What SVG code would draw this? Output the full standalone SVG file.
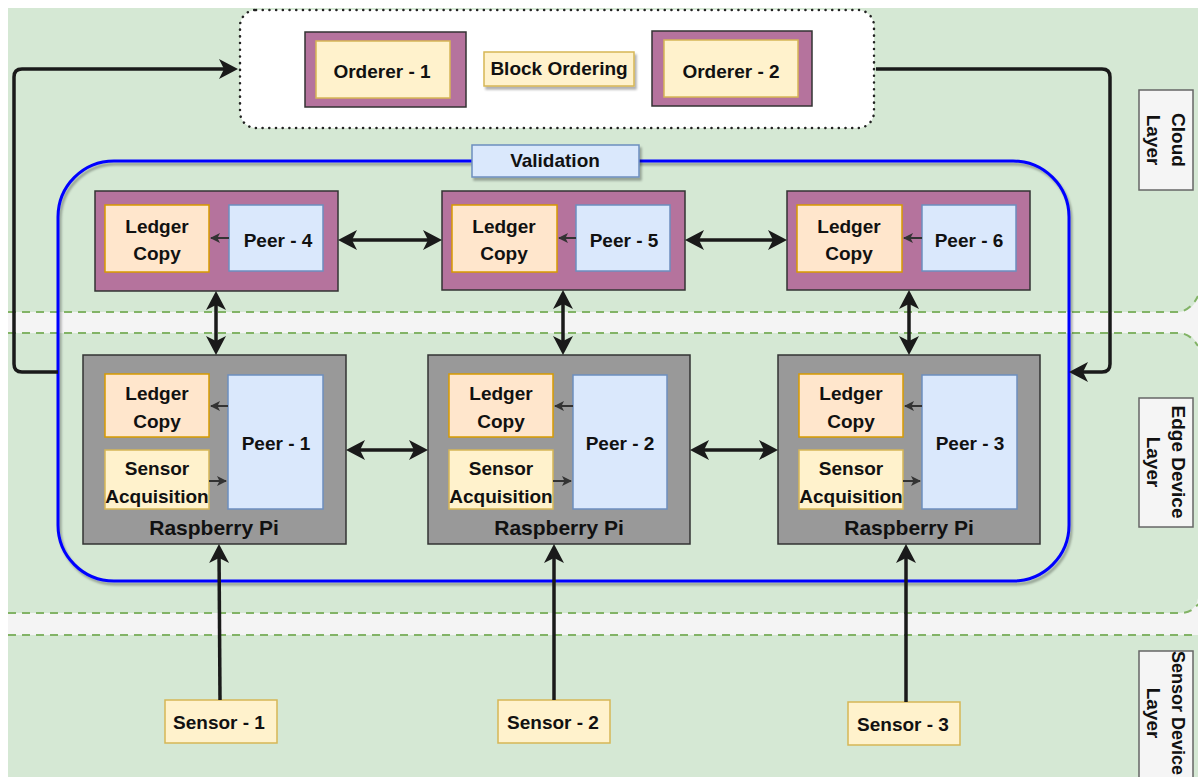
<svg xmlns="http://www.w3.org/2000/svg" width="1198" height="777" viewBox="0 0 1198 777">
  <style>
    text { font-family: "Liberation Sans", Arial, sans-serif; font-weight: bold; font-size: 19px; fill: #111; text-anchor: middle; dominant-baseline: central; }
    .band { fill: #d5e8d4; }
    .gap { fill: #f4f4f4; }
    .sep { fill: none; stroke: #82b366; stroke-width: 2; stroke-dasharray: 8 6; }
    .purple { fill: #b5739d; stroke: #333; stroke-width: 1.5; }
    .pi { fill: #999999; stroke: #333; stroke-width: 1.5; }
    .yellow { fill: #fff2cc; stroke: #d6b656; stroke-width: 1.5; }
    .ledger { fill: #ffe6cc; stroke: #d79b00; stroke-width: 1.5; }
    .peer { fill: #dae8fc; stroke: #6c8ebf; stroke-width: 1.5; }
    .layer { fill: #f5f5f5; stroke: #666; stroke-width: 1.5; }
    .big { fill: none; stroke: #1a1a1a; stroke-width: 3.5; }
    .small { fill: none; stroke: #333; stroke-width: 2; }
  </style>
  <defs>
    <marker id="ah" viewBox="-22 -12 26 24" markerWidth="26" markerHeight="24" refX="-4" refY="0" markerUnits="userSpaceOnUse" orient="auto-start-reverse">
      <path d="M0,0 L-19,-10 L-14,0 L-19,10 Z" fill="#1a1a1a"/>
    </marker>
    <marker id="sa" viewBox="-12 -7 14 14" markerWidth="14" markerHeight="14" refX="0" refY="0" markerUnits="userSpaceOnUse" orient="auto">
      <path d="M1,0 L-9,-5 L-6.5,0 L-9,5 Z" fill="#333"/>
    </marker>
    <filter id="shadow" x="-10%" y="-10%" width="130%" height="140%">
      <feDropShadow dx="2" dy="3" stdDeviation="1.2" flood-color="#000" flood-opacity="0.3"/>
    </filter>
  </defs>

  <!-- page background -->
  <rect x="0" y="0" width="1198" height="777" fill="#ffffff"/>

  <!-- layer bands -->
  <g id="bands">
    <rect class="gap" x="8" y="290" width="1190" height="360"/>
    <path class="band" d="M8,8 H1198 V292 Q1196,312 1176,312 H8 Z"/>
    <path class="band" d="M8,333 H1178 Q1196,333 1198,350 V598 Q1196,613 1178,613 H8 Z"/>
    <rect class="band" x="8" y="635" width="1190" height="142"/>
    <path class="sep" d="M8,312 H1176 Q1190,312 1198,296"/>
    <path class="sep" d="M8,333 H1178 Q1190,333 1198,346"/>
    <path class="sep" d="M8,613 H1180 Q1192,613 1198,604"/>
    <path class="sep" d="M8,635 H1198"/>
  </g>

  <!-- layer labels -->
  <g id="label-cloud">
    <rect class="layer" x="1139" y="90" width="54" height="100"/>
    <g transform="translate(1166,140) rotate(90)">
      <text x="0" y="-12">Cloud</text>
      <text x="0" y="13">Layer</text>
    </g>
  </g>
  <g id="label-edge">
    <rect class="layer" x="1139" y="398" width="54" height="129"/>
    <g transform="translate(1166,462) rotate(90)">
      <text x="0" y="-12">Edge Device</text>
      <text x="0" y="13">Layer</text>
    </g>
  </g>
  <g id="label-sensor">
    <rect class="layer" x="1139" y="651" width="54" height="132"/>
    <g transform="translate(1166,713) rotate(90)">
      <text x="0" y="-12" style="font-size:18px">Sensor Device</text>
      <text x="0" y="13">Layer</text>
    </g>
  </g>

  <!-- ordering service -->
  <g id="ordering-service">
    <rect x="240" y="10" width="634" height="118" rx="16" fill="#ffffff" stroke="#222" stroke-width="2.5" stroke-dasharray="0.1 6.6" stroke-linecap="round"/>
  </g>
  <g id="orderer-1">
    <rect class="purple" x="305" y="32" width="161" height="75"/>
    <rect class="yellow" x="316" y="41" width="134" height="57"/>
    <text x="382" y="71">Orderer - 1</text>
  </g>
  <g id="block-ordering">
    <rect class="yellow" x="484" y="52" width="150" height="34" filter="url(#shadow)"/>
    <text x="559" y="68">Block Ordering</text>
  </g>
  <g id="orderer-2">
    <rect class="purple" x="652" y="31" width="160" height="75"/>
    <rect class="yellow" x="664" y="40" width="134" height="57"/>
    <text x="731" y="71">Orderer - 2</text>
  </g>

  <!-- validation boundary -->
  <g id="validation">
    <rect x="58" y="161" width="1011" height="420" rx="56" fill="none" stroke="#0000ff" stroke-width="3" filter="url(#shadow)"/>
    <rect class="peer" x="472" y="145" width="167" height="32" filter="url(#shadow)"/>
    <text x="555" y="160">Validation</text>
  </g>

  <!-- cloud peers -->
  <g id="peer-4">
    <rect class="purple" x="95" y="191" width="243" height="100"/>
    <rect class="ledger" x="105" y="205" width="104" height="67"/>
    <text x="157" y="226">Ledger</text>
    <text x="157" y="253">Copy</text>
    <rect class="peer" x="229" y="205" width="94" height="66"/>
    <text x="278" y="240">Peer - 4</text>
  </g>
  <g id="peer-5">
    <rect class="purple" x="442" y="191" width="243" height="99"/>
    <rect class="ledger" x="452" y="205" width="105" height="67"/>
    <text x="504" y="226">Ledger</text>
    <text x="504" y="253">Copy</text>
    <rect class="peer" x="576" y="205" width="94" height="66"/>
    <text x="624" y="240">Peer - 5</text>
  </g>
  <g id="peer-6">
    <rect class="purple" x="787" y="191" width="243" height="99"/>
    <rect class="ledger" x="797" y="205" width="105" height="67"/>
    <text x="849" y="226">Ledger</text>
    <text x="849" y="253">Copy</text>
    <rect class="peer" x="922" y="205" width="94" height="66"/>
    <text x="969" y="240">Peer - 6</text>
  </g>

  <!-- edge devices -->
  <g id="raspberry-pi-1">
    <rect class="pi" x="83" y="355" width="263" height="189"/>
    <rect class="ledger" x="105" y="374" width="104" height="63"/>
    <text x="157" y="393">Ledger</text>
    <text x="157" y="421">Copy</text>
    <rect class="yellow" x="105" y="450" width="104" height="59"/>
    <text x="157" y="468">Sensor</text>
    <text x="157" y="496">Acquisition</text>
    <rect class="peer" x="228" y="375" width="95" height="134"/>
    <text x="276" y="443">Peer - 1</text>
    <text x="214" y="527" style="font-size:21px">Raspberry Pi</text>
  </g>
  <g id="raspberry-pi-2">
    <rect class="pi" x="428" y="355" width="262" height="189"/>
    <rect class="ledger" x="449" y="374" width="104" height="63"/>
    <text x="501" y="393">Ledger</text>
    <text x="501" y="421">Copy</text>
    <rect class="yellow" x="449" y="450" width="104" height="59"/>
    <text x="501" y="468">Sensor</text>
    <text x="501" y="496">Acquisition</text>
    <rect class="peer" x="573" y="375" width="94" height="134"/>
    <text x="620" y="443">Peer - 2</text>
    <text x="559" y="527" style="font-size:21px">Raspberry Pi</text>
  </g>
  <g id="raspberry-pi-3">
    <rect class="pi" x="778" y="355" width="262" height="189"/>
    <rect class="ledger" x="799" y="374" width="104" height="63"/>
    <text x="851" y="393">Ledger</text>
    <text x="851" y="421">Copy</text>
    <rect class="yellow" x="799" y="450" width="104" height="59"/>
    <text x="851" y="468">Sensor</text>
    <text x="851" y="496">Acquisition</text>
    <rect class="peer" x="922" y="375" width="95" height="134"/>
    <text x="970" y="443">Peer - 3</text>
    <text x="909" y="527" style="font-size:21px">Raspberry Pi</text>
  </g>

  <!-- sensors -->
  <g id="sensor-1">
    <rect class="yellow" x="165" y="700" width="112" height="43"/>
    <text x="219" y="722">Sensor - 1</text>
  </g>
  <g id="sensor-2">
    <rect class="yellow" x="498" y="700" width="112" height="43"/>
    <text x="553" y="722">Sensor - 2</text>
  </g>
  <g id="sensor-3">
    <rect class="yellow" x="848" y="702" width="112" height="43"/>
    <text x="903" y="724">Sensor - 3</text>
  </g>

  <!-- connectors -->
  <g id="connectors">
    <!-- peer to peer (cloud) -->
    <path class="big" d="M342,240 H438" marker-start="url(#ah)" marker-end="url(#ah)"/>
    <path class="big" d="M689,240 H783" marker-start="url(#ah)" marker-end="url(#ah)"/>
    <!-- cloud peers to edge devices -->
    <path class="big" d="M216,295 V351" marker-start="url(#ah)" marker-end="url(#ah)"/>
    <path class="big" d="M563,294 V351" marker-start="url(#ah)" marker-end="url(#ah)"/>
    <path class="big" d="M909,294 V351" marker-start="url(#ah)" marker-end="url(#ah)"/>
    <!-- edge device to edge device -->
    <path class="big" d="M350,450 H424" marker-start="url(#ah)" marker-end="url(#ah)"/>
    <path class="big" d="M694,450 H774" marker-start="url(#ah)" marker-end="url(#ah)"/>
    <!-- sensors to edge devices -->
    <path class="big" d="M220,700 L219,548" marker-end="url(#ah)"/>
    <path class="big" d="M554,700 V548" marker-end="url(#ah)"/>
    <path class="big" d="M906,702 V548" marker-end="url(#ah)"/>
    <!-- validation loop with the ordering service -->
    <path class="big" d="M58,372 H22 Q14,372 14,364 V77 Q14,69 22,69 H234" marker-end="url(#ah)"/>
    <path class="big" d="M876,69 H1102 Q1110,69 1110,77 V364 Q1110,372 1102,372 H1073" marker-end="url(#ah)"/>
    <!-- inner flows -->
    <path class="small" d="M229,238 H211" marker-end="url(#sa)"/>
    <path class="small" d="M576,238 H559" marker-end="url(#sa)"/>
    <path class="small" d="M922,238 H904" marker-end="url(#sa)"/>
    <path class="small" d="M228,406 H211" marker-end="url(#sa)"/>
    <path class="small" d="M209,481 H226" marker-end="url(#sa)"/>
    <path class="small" d="M573,406 H555" marker-end="url(#sa)"/>
    <path class="small" d="M553,481 H571" marker-end="url(#sa)"/>
    <path class="small" d="M922,406 H905" marker-end="url(#sa)"/>
    <path class="small" d="M903,481 H920" marker-end="url(#sa)"/>
  </g>
</svg>
